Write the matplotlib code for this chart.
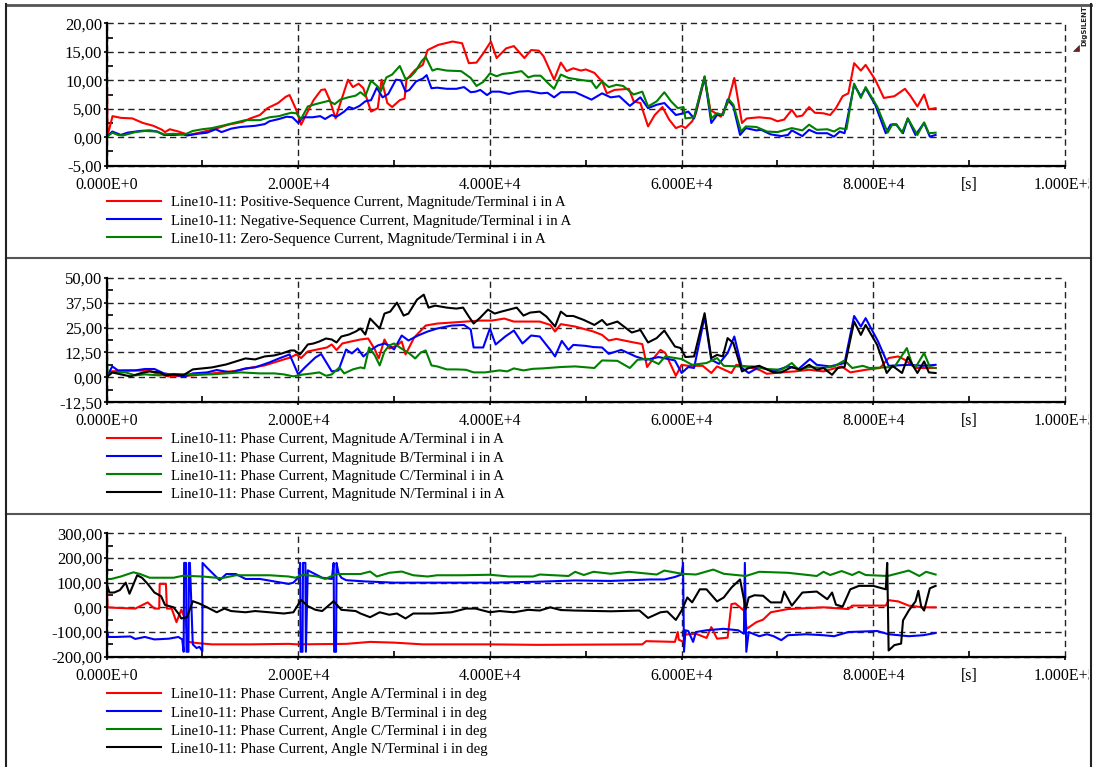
import numpy as np
import matplotlib
matplotlib.use("Agg")
import matplotlib.pyplot as plt
from matplotlib.lines import Line2D
from matplotlib.patches import Polygon
from matplotlib.ticker import FuncFormatter
from matplotlib.transforms import Bbox

W, H = 1094, 767

# ---- sequence currents (time in ks, current in A) ----
t_i1 = [0, 0.1, 0.63, 1.5, 2.7, 3.8, 4.9, 5.8, 6.1, 6.6, 7.5, 8.6, 9.7, 11.2, 12.7, 14.2, 15.0, 16.0, 16.8,
        17.9, 18.7, 19.1, 19.8, 20.3, 20.9, 21.6, 22.4, 22.8, 23.3, 23.9, 24.4, 25.2, 25.7, 26.3, 26.8, 27.6,
        28.3, 28.7, 29.3, 29.8, 30.6, 31.1, 31.3, 32.2, 33.0, 33.5, 34.6, 36.1, 37.1, 37.8, 38.6, 39.3, 40.1,
        40.7, 41.7, 42.5, 43.6, 44.3, 45.1, 45.6, 46.7, 47.4, 48.0, 48.7, 49.5, 50.0, 50.9, 51.7, 52.2, 53.0,
        54.5, 55.0, 55.7, 56.5, 57.2, 58.0, 58.7, 59.4, 60.0, 60.4, 61.1, 61.5, 62.4, 63.0, 64.1, 64.8, 65.5,
        66.3, 66.8, 68.1, 69.3, 70.0, 70.7, 71.5, 72.0, 72.6, 73.3, 73.9, 74.8, 75.5, 76.1, 76.8, 77.4, 78.0,
        78.7, 79.2, 80.2, 81.1, 82.2, 83.3, 83.9, 84.6, 85.3, 85.8, 86.5]
i1 = [18.8, 0.2, 3.7, 3.4, 3.3, 2.5, 2.0, 1.3, 0.9, 1.4, 1.0, 0.4, 0.8, 1.4, 2.2, 2.7, 3.3, 3.9, 5.1,
      6.0, 7.1, 7.4, 4.8, 2.2, 4.2, 6.5, 8.3, 8.4, 6.5, 3.3, 6.0, 10.1, 8.8, 9.4, 8.6, 4.5,
      5.1, 10.1, 6.0, 5.3, 6.5, 6.8, 10.1, 11.8, 12.7, 15.3, 16.2, 16.8, 16.5, 13.0, 13.1, 14.7, 16.8,
      13.9, 15.6, 16.0, 13.9, 15.3, 15.2, 14.2, 10.1, 13.1, 11.6, 12.1, 11.7, 11.9, 11.3, 9.8, 7.7, 8.3,
      8.5, 6.3, 6.0, 1.9, 3.9, 5.3, 3.1, 1.6, 2.0, 1.6, 2.8, 4.2, 10.4, 4.8, 3.6, 6.0, 10.4,
      2.5, 3.3, 3.5, 3.3, 2.8, 3.1, 4.8, 3.6, 3.8, 5.3, 4.3, 4.2, 3.9, 5.1, 7.2, 7.7, 13.0,
      11.7, 12.7, 10.1, 6.9, 7.2, 8.5, 7.2, 5.4, 7.5, 4.9, 5.1]

t_i2 = [0, 0.6, 1.5, 2.2, 3.5, 4.5, 5.3, 6.0, 7.0, 8.0, 8.4, 9.5, 10.5, 11.4, 12.0, 13.0, 14.0, 15.5, 16.5,
        17.0, 18.0, 18.8, 19.4, 20.0, 20.5, 21.5, 22.3, 22.8, 23.5, 24.0, 24.8, 25.3, 25.8, 26.4, 27.0, 27.6,
        28.2, 28.8, 29.4, 30.2, 30.7, 31.2, 31.6, 32.3, 33.0, 33.4, 33.9, 34.5, 35.5, 36.5, 37.3, 38.0, 38.5,
        39.0, 39.7, 40.2, 41.0, 42.0, 43.0, 44.0, 45.3, 46.0, 46.7, 47.4, 48.9, 50.6, 51.7, 52.6, 53.5, 54.6,
        55.7, 56.5, 57.4, 58.2, 59.4, 60.2, 60.7, 61.3, 62.4, 63.1, 63.7, 64.3, 64.8, 65.4, 66.1, 66.7, 67.8,
        68.3, 69.3, 70.4, 71.1, 71.5, 72.6, 73.3, 74.1, 75.2, 75.9, 76.5, 77.0, 78.0, 78.7, 79.2, 80.2, 81.3,
        81.8, 82.4, 83.1, 83.6, 84.4, 85.3, 85.9, 86.5]
i2 = [0, 1.0, 0.4, 0.8, 1.1, 1.2, 1.0, 0.4, 0.4, 0.5, 0.3, 0.6, 0.8, 1.4, 0.9, 1.5, 1.8, 2.0, 2.3,
      2.8, 3.2, 3.6, 3.5, 2.5, 3.5, 3.5, 3.7, 3.2, 3.9, 3.6, 4.5, 5.3, 5.0, 5.5, 6.3, 6.5,
      8.7, 7.0, 7.6, 10.1, 10.0, 8.0, 8.3, 9.8, 10.3, 10.9, 8.6, 8.7, 8.5, 8.5, 8.8, 7.9, 8.0,
      8.3, 7.4, 8.0, 8.0, 7.6, 8.0, 8.1, 7.7, 7.8, 7.0, 7.9, 7.9, 6.6, 7.7, 7.0, 7.2, 5.5,
      7.0, 5.1, 5.7, 6.0, 3.9, 4.2, 4.5, 3.3, 10.6, 2.5, 3.9, 3.9, 6.6, 5.4, 0.4, 1.6, 1.2,
      1.3, 0.5, 0.2, 0.4, 1.2, 0.2, 1.3, 0.7, 0.7, 0.1, 1.0, 0.7, 9.2, 7.2, 8.6, 5.7, 0.7,
      2.2, 2.2, 0.7, 3.3, 0.4, 2.5, 0.1, 0.4]

t_i0 = [0, 0.6, 1.2, 1.7, 3.0, 4.0, 5.2, 6.0, 7.0, 8.2, 9.0, 10.0, 11.0, 12.3, 13.5, 14.5, 16.0, 17.0, 18.0,
        18.6, 19.3, 19.8, 20.3, 21.0, 21.8, 22.5, 23.2, 23.8, 24.4, 25.2, 26.0, 26.5, 27.0, 27.6, 28.3, 28.6,
        29.2, 29.8, 30.6, 31.2, 31.7, 32.2, 32.9, 33.3, 34.0, 34.5, 35.5, 37.0, 38.0, 38.6, 39.3, 40.0, 40.7,
        41.3, 42.3, 43.3, 44.0, 44.6, 45.3, 46.0, 46.7, 47.4, 48.2, 49.3, 50.6, 51.1, 51.7, 52.4, 53.2, 53.9,
        55.0, 55.9, 56.5, 57.4, 58.2, 58.9, 59.6, 60.2, 60.4, 61.3, 62.4, 63.1, 63.7, 64.3, 64.9, 65.4, 66.2,
        66.7, 67.8, 68.9, 70.0, 71.5, 72.6, 73.3, 74.1, 75.2, 75.9, 76.5, 77.2, 78.0, 78.7, 79.2, 80.4, 81.5,
        82.0, 82.4, 83.0, 83.6, 84.6, 85.3, 85.8, 86.5]
i0 = [0, 0.8, 0.4, 0.3, 0.9, 1.1, 1.0, 0.5, 0.6, 0.5, 1.1, 1.4, 1.6, 2.1, 2.6, 3.0, 3.0, 3.5, 3.7,
      4.0, 4.3, 4.2, 3.2, 5.4, 5.8, 6.1, 6.4, 5.8, 6.6, 7.0, 7.3, 7.9, 7.2, 9.9, 8.9, 8.0,
      10.5, 11.0, 12.5, 10.2, 10.6, 11.5, 13.4, 14.1, 11.7, 12.0, 11.7, 11.6, 10.4, 9.0, 9.7, 11.2, 10.7,
      11.1, 11.3, 11.6, 10.5, 10.8, 10.8, 9.6, 8.5, 11.0, 10.4, 10.1, 9.8, 8.6, 9.8, 8.8, 9.2, 9.0,
      7.5, 8.0, 5.4, 6.3, 7.9, 6.3, 5.1, 5.3, 3.3, 3.5, 10.7, 3.3, 4.2, 3.9, 6.7, 5.7, 1.0,
      1.9, 1.8, 1.0, 0.9, 1.6, 1.2, 2.2, 1.3, 1.4, 1.0, 1.6, 1.4, 9.4, 6.9, 8.8, 5.4, 0.8,
      2.3, 2.3, 0.8, 3.3, 0.4, 2.6, 0.7, 0.8]

# ---- phase current magnitudes ----
t_ia = [0, 0.5, 1.5, 3.0, 4.5, 5.5, 6.5, 8.0, 9.0, 10.5, 12.0, 13.5, 15.0, 16.5, 17.5, 18.5, 19.2, 19.8,
        20.3, 21.0, 22.0, 23.0, 23.5, 24.0, 24.6, 25.5, 26.5, 27.3, 28.0, 28.4, 29.0, 29.5, 30.3, 30.8,
        31.2, 32.1, 33.3, 34.5, 36.0, 37.5, 39.0, 40.2, 41.5, 42.5, 44.0, 45.2, 46.3, 46.8, 47.4, 48.9,
        50.8, 51.7, 52.4, 53.2, 54.5, 55.9, 56.4, 57.0, 57.8, 58.3, 59.4, 60.0, 60.7, 62.2, 63.1, 63.7,
        65.2, 65.7, 66.7, 68.1, 68.9, 70.4, 71.8, 73.3, 74.8, 76.7, 77.6, 79.2, 80.7, 81.6, 82.6, 83.3,
        84.4, 86.5]
ia = [0, 3.0, 3.3, 3.5, 3.2, 1.5, 0.5, 0.7, 1.0, 1.7, 2.5, 3.3, 4.8, 6.0, 7.5, 9.0, 10.0, 11.5,
      9.7, 13.0, 14.0, 15.0, 16.5, 13.7, 17.0, 18.0, 19.0, 19.5, 14.0, 9.5, 19.0, 14.5, 16.0, 18.0,
      11.5, 20.0, 26.0, 27.0, 27.5, 28.0, 28.5, 28.5, 29.5, 28.0, 28.0, 28.0, 26.3, 23.0, 26.7, 25.5,
      23.0, 21.3, 18.5, 19.3, 18.0, 16.7, 5.2, 9.2, 13.8, 12.2, 0.8, 6.3, 5.8, 5.8, 2.2, 5.5,
      2.2, 6.3, 5.5, 3.8, 1.8, 2.5, 3.0, 3.8, 3.0, 5.5, 2.5, 3.8, 4.7, 9.7, 10.5, 8.8,
      4.7, 4.7]

t_ib = [0, 0.6, 1.2, 3.0, 4.0, 5.0, 6.0, 7.0, 8.2, 9.0, 10.5, 11.5, 13.0, 14.5, 15.5, 17.0, 18.0, 19.1,
        20.0, 20.7, 21.8, 22.4, 23.0, 23.5, 24.2, 25.0, 25.6, 26.2, 26.8, 27.5, 28.3, 29.0, 29.5, 30.0,
        30.8, 31.5, 32.5, 33.5, 34.5, 36.0, 37.3, 38.0, 38.3, 39.3, 40.0, 40.6, 41.6, 42.5, 43.4, 44.3,
        45.2, 46.3, 46.8, 47.5, 48.2, 48.7, 50.0, 50.8, 51.7, 52.4, 53.7, 55.2, 56.3, 57.6, 59.3, 60.0,
        60.7, 61.3, 62.4, 63.1, 63.9, 64.8, 65.5, 66.3, 67.0, 68.1, 69.6, 71.1, 72.2, 73.4, 74.1, 75.5,
        77.0, 78.0, 78.7, 79.2, 80.5, 81.6, 83.7, 85.2, 86.5]
ib = [0, 5.5, 3.5, 3.5, 4.2, 4.2, 2.0, 1.3, 0.5, 2.0, 2.5, 3.7, 2.5, 4.5, 5.0, 7.5, 9.5, 11.5,
      1.5, 5.0, 10.0, 11.7, 7.0, 3.0, 3.5, 14.0, 12.0, 14.5, 10.5, 13.5, 16.0, 17.0, 16.0, 14.0,
      21.0, 18.5, 21.0, 23.0, 24.5, 26.0, 26.3, 24.0, 15.0, 15.0, 24.5, 16.5, 20.5, 23.5, 17.0, 21.0,
      20.5, 13.8, 10.5, 18.3, 13.8, 16.3, 15.8, 15.2, 15.0, 11.8, 13.8, 10.5, 8.8, 10.2, 8.5, 2.2,
      5.2, 4.7, 30.5, 8.8, 6.8, 12.2, 20.5, 4.7, 2.2, 5.2, 3.0, 5.5, 4.2, 9.2, 6.3, 5.5,
      7.2, 30.8, 25.5, 29.7, 18.0, 5.8, 6.3, 5.8, 6.3]

t_ic = [0, 0.1, 0.6, 2.0, 3.0, 4.0, 5.5, 7.0, 9.0, 11.0, 12.5, 14.0, 16.0, 17.5, 18.5, 19.5, 20.3, 21.5,
        22.2, 22.9, 23.5, 24.3, 24.8, 25.7, 26.5, 26.9, 27.4, 28.0, 28.5, 29.0, 29.5, 30.0, 30.6, 31.6,
        32.2, 32.8, 33.3, 33.9, 34.5, 35.5, 36.5, 37.5, 38.3, 39.5, 41.0, 41.8, 42.5, 43.5, 44.5, 45.5,
        47.4, 48.9, 50.9, 51.7, 53.3, 54.6, 55.4, 56.5, 57.6, 58.3, 60.0, 61.1, 62.6, 63.7, 64.4, 65.9,
        67.4, 68.9, 70.4, 71.5, 72.2, 73.3, 74.8, 75.9, 77.0, 77.8, 78.9, 79.6, 82.2, 83.5, 84.1, 84.5,
        85.3, 85.9, 86.5]
ic = [19.0, 1.0, 2.5, 2.5, 1.0, 1.5, 1.0, 1.7, 1.5, 1.5, 2.0, 2.5, 2.0, 2.0, 1.5, 0.5, 1.3, 2.0,
      2.5, 0.8, 1.5, 5.0, 2.0, 4.0, 5.0, 4.5, 15.0, 11.0, 6.0, 13.0, 16.0, 17.0, 15.0, 12.0,
      9.5, 12.5, 13.5, 6.0, 5.5, 4.0, 4.0, 3.8, 2.5, 2.5, 3.5, 3.0, 4.5, 3.5, 4.3, 4.5,
      5.2, 5.5, 4.7, 8.5, 8.3, 4.7, 8.8, 9.3, 6.7, 10.5, 9.2, 6.3, 7.2, 9.7, 5.8, 5.5,
      5.5, 4.2, 3.8, 7.2, 3.8, 5.2, 4.7, 5.5, 8.5, 4.7, 5.8, 4.7, 5.2, 14.7, 5.8, 5.8,
      12.2, 5.2, 4.7]

t_in = [0, 0.6, 1.5, 2.5, 3.5, 4.5, 5.5, 6.2, 7.0, 8.0, 9.0, 10.0, 11.0, 12.5, 13.5, 14.5, 15.5, 16.5,
        17.5, 18.3, 19.2, 19.6, 20.2, 21.0, 21.6, 22.2, 22.9, 23.5, 24.0, 24.5, 25.3, 26.0, 26.5, 27.0,
        27.5, 28.0, 28.5, 29.0, 29.6, 30.3, 31.0, 31.5, 32.4, 33.1, 33.6, 34.3, 35.5, 36.5, 37.2, 37.8,
        38.3, 39.0, 39.8, 40.5, 41.2, 42.0, 42.8, 43.5, 44.2, 45.2, 45.9, 46.8, 47.4, 48.0, 48.7, 49.8,
        50.9, 51.7, 52.2, 53.3, 54.8, 55.7, 56.5, 57.4, 58.2, 59.3, 59.9, 60.4, 61.3, 62.4, 63.1, 63.7,
        64.3, 64.8, 65.4, 66.3, 67.0, 68.1, 69.6, 70.4, 71.5, 72.4, 73.3, 74.1, 74.8, 75.7, 76.3, 77.0,
        78.0, 78.7, 79.2, 80.4, 81.4, 82.0, 83.0, 83.6, 84.6, 85.3, 85.8, 86.5]
i_n = [0, 2.5, 1.5, 0.5, 2.0, 3.0, 2.5, 1.0, 1.5, 1.0, 4.0, 4.5, 5.0, 6.5, 8.0, 9.5, 9.0, 10.5,
       11.0, 12.0, 13.5, 13.5, 11.5, 16.5, 17.0, 18.0, 19.5, 19.0, 17.5, 20.5, 21.5, 23.0, 24.5, 21.5,
       29.5, 27.0, 24.5, 32.0, 33.0, 37.5, 31.0, 32.0, 39.0, 41.5, 35.0, 36.0, 35.0, 34.5, 35.0, 30.5,
       27.0, 30.0, 34.0, 32.0, 33.0, 34.0, 35.0, 31.0, 32.5, 33.0, 30.5, 25.5, 33.0, 30.8, 30.8, 28.8,
       26.3, 28.8, 26.3, 28.0, 22.5, 23.8, 17.5, 19.7, 23.5, 15.5, 14.7, 10.2, 10.5, 32.2, 9.7, 11.3,
       10.5, 19.7, 17.2, 3.0, 4.7, 5.8, 2.5, 2.5, 5.2, 3.8, 6.3, 3.8, 4.7, 1.3, 4.7, 5.2,
       28.0, 21.3, 26.3, 16.3, 2.2, 5.8, 2.2, 10.2, 2.2, 8.0, 2.5, 2.2]

# ---- phase current angles (deg) ----
t_aa = [0, 0.1, 1.0, 3.0, 4.3, 5.0, 5.5, 5.55, 6.2, 6.3, 6.8, 7.3, 7.8, 8.2, 8.5, 9.5, 11.0, 15.0, 19.0,
        20.0, 25.0, 27.5, 30.0, 33.0, 40.0, 45.0, 55.9, 56.3, 59.3, 59.6, 59.7, 60.2, 60.4, 61.5, 62.6,
        63.1, 63.7, 64.8, 65.2, 65.6, 66.5, 66.8, 67.8, 68.5, 69.3, 71.1, 74.8, 77.4, 77.8, 81.3, 81.6,
        82.6, 83.7, 85.2, 86.5]
aa = [165, 0, -2, -5, 20, -5, -5, 95, 95, -5, -5, -60, -10, -45, -140, -145, -150, -150, -148,
      -150, -148, -140, -143, -150, -150, -152, -150, -137, -140, -100, -131, -140, -110, -107, -124,
      -80, -127, -123, 13, 16, -13, -87, -60, -50, -20, -7, 0, -7, 7, 7, 29,
      24, 7, 0, 0]

t_ab = [0, 0.2, 1.0, 2.5, 3.0, 4.0, 5.0, 6.5, 7.5, 7.9, 8.05, 8.1, 8.3, 8.35, 8.55, 8.6, 8.7, 9.0,
        9.4, 9.7, 10.0, 10.02, 10.5, 11.8, 12.5, 13.5, 14.5, 16.0, 17.5, 19.0, 19.5, 20.1, 20.2, 20.25,
        20.45, 20.5, 20.75, 20.8, 21.0, 22.5, 23.5, 23.7, 23.75, 23.95, 24.0, 24.2, 24.5, 25.0, 27.0,
        30.0, 35.0, 40.0, 45.2, 48.9, 52.6, 56.7, 58.2, 59.3, 60.0, 60.15, 60.25, 60.4, 60.7, 61.2, 61.5,
        62.6, 64.4, 65.9, 66.5, 66.6, 66.75, 67.0, 68.1, 68.9, 69.6, 70.4, 71.1, 73.0, 74.8, 75.9, 77.4,
        80.4, 81.6, 83.7, 85.2, 86.5]
ab = [-90, -120, -120, -118, -128, -120, -130, -127, -120, -130, -180, 180, 180, -180, -180, 180, 180, -150,
      -165, -160, -178, 180, 160, 110, 135, 135, 115, 115, 105, 95, 100, 125, 180, -180,
      -180, 180, 180, -180, 150, 120, 115, 180, -180, -180, 180, 140, 120, 110, 105,
      100, 100, 100, 104, 109, 107, 113, 113, 123, 133, 180, -180, -93, -96, -140, -100,
      -93, -87, -93, -107, 180, -180, -100, -117, -109, -117, -133, -113, -109, -113, -117, -100,
      -96, -109, -117, -113, -104]

t_ac = [0, 0.05, 0.5, 1.5, 2.8, 3.5, 4.5, 7.0, 8.0, 10.0, 12.0, 13.5, 17.0, 19.0, 19.7, 20.5, 22.0, 22.8,
        24.0, 26.5, 27.5, 28.2, 29.5, 30.8, 32.0, 33.5, 34.5, 37.0, 40.0, 42.0, 44.5, 45.2, 48.2, 48.9,
        49.8, 50.8, 52.6, 54.5, 57.4, 58.2, 60.0, 61.5, 63.3, 64.4, 66.7, 68.1, 71.1, 74.1, 74.8, 75.5,
        76.7, 77.8, 78.5, 79.2, 81.5, 83.7, 84.8, 85.5, 86.5]
ac = [-70, 115, 115, 125, 142, 135, 120, 120, 128, 125, 118, 130, 130, 125, 120, 132, 125, 115,
      135, 135, 145, 125, 140, 145, 130, 125, 130, 130, 132, 125, 125, 133, 127, 144,
      131, 144, 136, 144, 133, 149, 136, 133, 153, 136, 127, 144, 140, 127, 144, 131,
      147, 131, 144, 131, 127, 149, 127, 144, 133]

t_an = [0, 0.3, 0.8, 1.4, 2.0, 2.4, 3.2, 3.7, 4.3, 5.0, 5.7, 6.1, 7.0, 7.5, 7.8, 8.4, 9.0, 9.7, 10.5,
        11.5, 12.3, 13.0, 14.5, 15.5, 17.0, 18.5, 19.5, 20.3, 21.0, 21.8, 22.5, 23.7, 24.5, 26.0, 26.5,
        27.5, 28.5, 29.5, 30.3, 31.2, 32.0, 34.0, 36.0, 37.5, 38.5, 40.0, 41.0, 42.5, 44.0, 45.2, 46.3,
        47.4, 48.9, 52.6, 55.6, 56.5, 57.8, 58.5, 59.4, 60.0, 60.6, 61.1, 61.9, 62.6, 63.7, 64.4, 65.2,
        66.1, 66.7, 67.0, 67.6, 68.5, 69.3, 70.4, 70.7, 71.5, 72.6, 74.1, 75.2, 75.7, 76.1, 76.8, 77.6,
        78.5, 80.0, 81.3, 81.45, 81.6, 82.2, 82.9, 83.1, 83.7, 84.4, 84.7, 85.0, 85.3, 85.9, 86.5]
an = [100, 60, 60, 70, 100, 55, 130, 120, 95, 60, 45, 10, 0, -25, -45, -40, 25, 15, 0,
      -20, -5, -15, -20, -15, -20, -25, -20, 30, 5, -10, -15, 25, -10, -15, -25,
      -40, -20, -30, -25, -45, -25, -25, -20, -5, -5, -20, -15, -20, -10, -13, 0,
      -11, -13, -16, -13, -43, -20, -17, -51, -13, 40, 20, 73, 73, 24, 40, 80,
      113, -7, 40, 49, 47, 20, 20, 64, 7, 60, 64, 33, 60, 11, 3, 73,
      87, 87, 73, 180, -175, -153, -147, -53, -13, 24, 67, 3, -13, 77, 87]

labels_seq = ["Line10-11: Positive-Sequence Current, Magnitude/Terminal i in A",
              "Line10-11: Negative-Sequence Current, Magnitude/Terminal i in A",
              "Line10-11: Zero-Sequence Current, Magnitude/Terminal i in A"]
labels_mag = ["Line10-11: Phase Current, Magnitude %s/Terminal i in A" % p for p in "ABCN"]
labels_ang = ["Line10-11: Phase Current, Angle %s/Terminal i in deg" % p for p in "ABCN"]

RED, BLUE, GREEN, BLACK = "#ff0000", "#0000ff", "#008000", "#000000"
SERIF = "Liberation Serif"
XTICK_FS = 11.5
YTICK_FS = 12


def comma_fmt(v, pos):
    return ("%.2f" % v).replace(".", ",")


def sci_fmt(v, pos):
    mant, exp = ("%.3E" % v).split("E")
    return "%sE%+d" % (mant, int(exp))


def px_axes(fig, left, top, right, bottom):
    return fig.add_axes([left / W, 1 - bottom / H, (right - left) / W, (bottom - top) / H])


def setup(ax, ylo, yhi, ystep):
    ax.set_xlim(0, 1e5)
    ax.set_ylim(ylo, yhi)
    ax.set_xticks(np.arange(0, 1e5 + 1, 2e4))
    ax.set_xticks(np.arange(1e4, 1e5, 2e4), minor=True)
    ax.set_yticks(np.arange(ylo, yhi + ystep / 2, ystep))
    ax.set_yticks(np.arange(ylo + ystep / 2, yhi, ystep), minor=True)
    ax.xaxis.set_major_formatter(FuncFormatter(sci_fmt))
    ax.yaxis.set_major_formatter(FuncFormatter(comma_fmt))
    ax.grid(True, which="major", color="#222222", lw=1.0, ls=(0, (4.5, 3.0)))
    ax.set_axisbelow(True)
    for gl in ax.get_xgridlines() + ax.get_ygridlines():
        gl.set_clip_on(False)
    for s in ("top", "right"):
        ax.spines[s].set_visible(False)
    for s in ("left", "bottom"):
        ax.spines[s].set_linewidth(1.6)
    ax.tick_params(which="major", direction="out", length=2, width=1.2, pad=1)
    ax.tick_params(axis="x", which="major", pad=6)
    ax.tick_params(which="minor", direction="in", length=4, width=1.2)
    for lab in ax.get_xticklabels():
        lab.set_fontfamily(SERIF)
        lab.set_fontsize(XTICK_FS)
    for lab in ax.get_yticklabels():
        lab.set_fontfamily(SERIF)
        lab.set_fontsize(YTICK_FS)
    # the last time label runs into the panel frame
    ax.get_xticklabels()[-1].set_clip_box(Bbox.from_extents(0, 0, 1089, H))
    ax.get_xticklabels()[-1].set_clip_on(True)
    ax.annotate("[s]", xy=(9e4, 0), xycoords=("data", "axes fraction"), xytext=(0, -8),
                textcoords="offset points", ha="center", va="top", family=SERIF, fontsize=XTICK_FS)


def legend(ax, lines, labels, top_px):
    ax.legend(lines, labels, loc="upper left", bbox_to_anchor=(107 / W, 1 - top_px / H),
              bbox_transform=ax.figure.transFigure, frameon=False, prop={"family": SERIF, "size": 10.75},
              handlelength=3.6, handletextpad=0.67, labelspacing=0.31, borderpad=0, borderaxespad=0)


fig = plt.figure(figsize=(W / 100, H / 100), dpi=100)

# sequence currents
ax1 = px_axes(fig, 106.5, 23.3, 1065, 165.7)
setup(ax1, -5, 20, 5)
l1 = ax1.plot(np.array(t_i1) * 1e3, i1, color=RED, lw=1.5)[0]
l2 = ax1.plot(np.array(t_i2) * 1e3, i2, color=BLUE, lw=1.5)[0]
l0 = ax1.plot(np.array(t_i0) * 1e3, i0, color=GREEN, lw=1.5)[0]
legend(ax1, [l1, l2, l0], labels_seq, 196)

# phase magnitudes
ax2 = px_axes(fig, 106.5, 277.7, 1065, 402.3)
setup(ax2, -12.5, 50, 12.5)
mags = [(t_ia, ia, RED), (t_ib, ib, BLUE), (t_ic, ic, GREEN), (t_in, i_n, BLACK)]
hm = [ax2.plot(np.array(t) * 1e3, v, color=c, lw=1.5)[0] for t, v, c in mags]
legend(ax2, hm, labels_mag, 433)

# phase angles
ax3 = px_axes(fig, 106.5, 533.3, 1065, 656.7)
setup(ax3, -200, 300, 100)
angs = [(t_aa, aa, RED), (t_ab, ab, BLUE), (t_ac, ac, GREEN), (t_an, an, BLACK)]
ha = [ax3.plot(np.array(t) * 1e3, v, color=c, lw=1.5)[0] for t, v, c in angs]
legend(ax3, ha, labels_ang, 688)


# panel frames
def hline(y, x0=6, x1=1091, color="#555555", lw=1.5):
    fig.add_artist(Line2D([x0 / W, x1 / W], [1 - y / H, 1 - y / H], color=color, lw=lw))


def vline(x, y0=4, y1=767, color="#222222", lw=1.5):
    fig.add_artist(Line2D([x / W, x / W], [1 - y0 / H, 1 - y1 / H], color=color, lw=lw))


hline(4.5, lw=2)
hline(258)
hline(513.5)
vline(6)
vline(1091)

# product mark in the corner
fig.text(1084 / W, 1 - 26 / H, "DIgSILENT", rotation=90, ha="center", va="center",
         fontsize=5, fontweight="bold", color="#222222")
fig.add_artist(Polygon([[1073 / W, 1 - 51 / H], [1079 / W, 1 - 51 / H], [1079 / W, 1 - 45 / H]],
                       closed=True, transform=fig.transFigure, facecolor="#7a1a1a", edgecolor="#333333", lw=0.5))

fig.savefig("out.png", dpi=100)
